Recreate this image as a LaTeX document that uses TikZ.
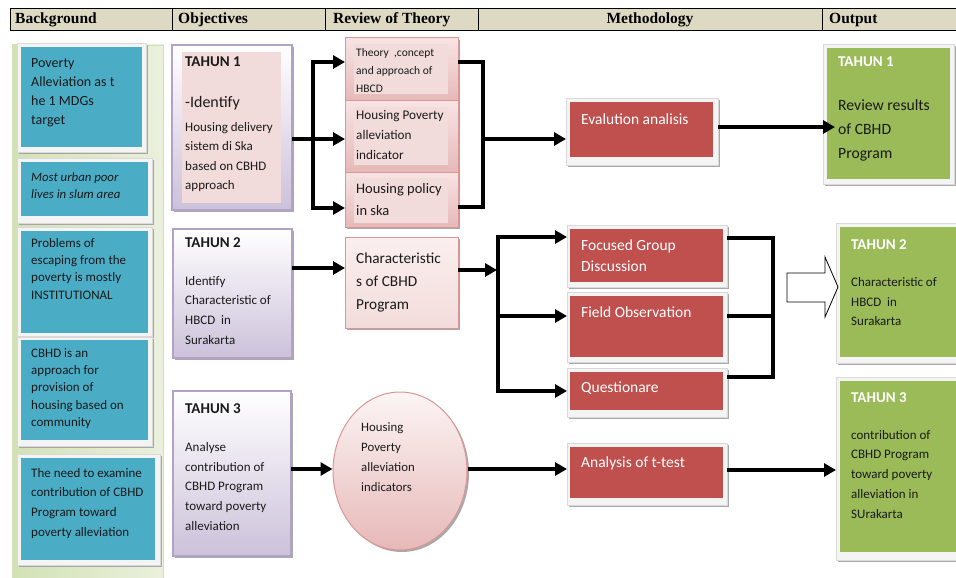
\documentclass[tikz,border=0pt]{standalone}
\usepackage{fontspec}
\setmainfont{Carlito}
\newfontfamily\hdrfont{Liberation Serif}
\usetikzlibrary{arrows.meta,shadows,shapes.geometric}
\definecolor{hdrbg}{HTML}{DDD9C3}
\definecolor{bluefill}{HTML}{4BACC6}
\definecolor{panelA}{HTML}{D3E1B6}
\definecolor{panelB}{HTML}{EAF0DC}
\definecolor{framefill}{HTML}{F4F4F4}
\definecolor{framedraw}{HTML}{D9D9D9}
\definecolor{purpbot}{HTML}{CCC1DA}
\definecolor{purpdraw}{HTML}{B3A2C7}
\definecolor{pinkinc}{HTML}{F2DCDB}
\definecolor{pinktop}{HTML}{F8E4E4}
\definecolor{pinkbot}{HTML}{E6B9B8}
\definecolor{pinkdraw}{HTML}{D99694}
\definecolor{redfill}{HTML}{C0504D}
\definecolor{greenfill}{HTML}{9BBB59}
\definecolor{shadowc}{HTML}{A0A0A0}
\definecolor{txtc}{HTML}{1A1A1A}
\newcommand\myfs[2]{\fontsize{#1pt}{#2pt}\selectfont}
\newcommand\bx[6]{\node[#1, minimum width=#5pt, minimum height=#6pt] (#2) at (#3,#4) {};}
\begin{document}
\begin{tikzpicture}[x=1pt,y=-1pt,
  bxs/.style={anchor=north west, inner sep=0pt, outer sep=0pt},
  shd/.style={drop shadow={shadow xshift=2pt,shadow yshift=-2pt,fill=shadowc,opacity=0.9}},
  frame/.style={bxs, shd, fill=framefill, draw=framedraw, line width=0.6pt},
  bluein/.style={bxs, fill=bluefill},
  redin/.style={bxs, fill=redfill},
  greenin/.style={bxs, fill=greenfill},
  purp/.style={bxs, shd, top color=white, bottom color=purpbot, draw=purpdraw, line width=1.2pt},
  pinkout/.style={bxs, shd, top color=pinktop, bottom color=pinkbot, draw=pinkdraw, line width=1pt},
  pinkin/.style={bxs, fill=pinkinc},
  txt/.style={anchor=north west, inner sep=0pt, align=left, text=txtc},
  wtxt/.style={anchor=north west, inner sep=0pt, align=left, text=white},
  hdr/.style={anchor=west, inner sep=0pt, font=\hdrfont\bfseries\myfs{15.5}{18}},
  link/.style={line width=4pt},
  arr/.style={link, -{Triangle[length=12pt,width=13pt]}}
]
\useasboundingbox (0,0) rectangle (956,578);
% header
\node[bxs, fill=hdrbg, minimum width=950pt, minimum height=22pt] (hdrbar) at (10,9) {};
\draw[line width=1pt] (hdrbar.north west) -- (hdrbar.north east);
\draw[line width=1pt] (hdrbar.south west) -- (hdrbar.south east);
\draw[line width=0.8pt] (10,9) -- (10,31);
\foreach \xx in {172,325,478,822} \draw[line width=0.8pt] (\xx,9) -- (\xx,31);
\node[hdr] (h1) at (15,20) {Background};
\node[hdr] (h2) at (178,20) {Objectives};
\node[hdr] (h3) at (333,20) {Review of Theory};
\node[hdr, anchor=center] (h4) at (650,20) {Methodology};
\node[hdr] (h5) at (829,20) {Output};
% background panel
\node[bxs, left color=panelA, right color=panelB, draw=panelA, minimum width=151pt, minimum height=540pt] (panel) at (12,45) {};
% blue boxes
\bx{frame}{bg1o}{17}{43}{129}{109}
\bx{bluein}{bg1}{21}{47}{121}{100}
\bx{frame}{bg2o}{17}{158}{135}{65}
\bx{bluein}{bg2}{21}{162}{127}{54}
\bx{frame}{bg3o}{17}{227}{135}{109}
\bx{bluein}{bg3}{21}{231}{127}{102}
\bx{frame}{bg4o}{17}{337}{135}{109}
\bx{bluein}{bg4}{21}{340}{127}{100}
\bx{frame}{bg5o}{17}{454}{143}{111}
\bx{bluein}{bg5}{21}{458}{134}{102}
\node[txt, font=\myfs{14}{19}] (bg1t) at (31,58.5) {Poverty\\Alleviation as t\\he 1 MDGs\\target};
\node[txt, font=\itshape\myfs{12.8}{17.5}] (bg2t) at (31,172) {Most urban poor\\lives in slum area};
\node[txt, font=\myfs{13}{17.3}] (bg3t) at (31,238) {Problems of\\escaping from the\\poverty is mostly\\INSTITUTIONAL};
\node[txt, font=\myfs{13}{17.3}] (bg4t) at (31,348) {CBHD is an\\approach for\\provision of\\housing based on\\community};
\node[txt, font=\myfs{13}{19.7}] (bg5t) at (31,468) {The need to examine\\contribution of CBHD\\Program toward\\poverty alleviation};
% objectives
\bx{purp}{obj1o}{172}{45}{120}{165}
\bx{pinkin}{obj1in}{182}{52}{99}{151}
\bx{purp}{obj2o}{173}{229}{119}{129}
\bx{purp}{obj3o}{173}{391}{118}{165}
\node[txt, font=\bfseries\myfs{15}{18}] (o1h) at (185,57) {TAHUN 1};
\node[txt, font=\myfs{16}{19}] (o1a) at (185,96.5) {-Identify};
\node[txt, font=\myfs{13}{19.5}] (o1b) at (185,122) {Housing delivery\\sistem di Ska\\based on CBHD\\approach};
\node[txt, font=\bfseries\myfs{15}{18}] (o2h) at (185,237) {TAHUN 2};
\node[txt, font=\myfs{13}{19.7}] (o2b) at (185,276) {Identify\\Characteristic of\\HBCD\ \ in\\Surakarta};
\node[txt, font=\bfseries\myfs{15}{18}] (o3h) at (185,403) {TAHUN 3};
\node[txt, font=\myfs{13}{19.8}] (o3b) at (185,442) {Analyse\\contribution of\\CBHD Program\\toward poverty\\alleviation};
% review of theory
\bx{pinkout}{rAo}{345}{38}{113}{62}
\bx{pinkin}{rA}{354}{44}{94}{50}
\bx{pinkout}{rBo}{345}{100}{113}{72}
\bx{pinkin}{rB}{354}{107}{94}{58}
\bx{pinkout}{rCo}{345}{172}{113}{55}
\bx{pinkin}{rC}{354}{178}{94}{45}
\node[bxs, shd, top color=pinktop!60, bottom color=pinkinc, draw=pinkdraw, line width=1pt, minimum width=113pt, minimum height=91pt] (charo) at (345,237) {};
\node[txt, font=\myfs{11.5}{18}] (rAt) at (356,48.5) {Theory\ \ ,concept\\and approach of\\HBCD};
\node[txt, font=\myfs{13.2}{20}] (rBt) at (356,110.5) {Housing Poverty\\alleviation\\indicator};
\node[txt, font=\myfs{14.5}{22}] (rCt) at (356,183) {Housing policy\\in ska};
\node[txt, font=\myfs{15.3}{23}] (charT) at (356,253) {Characteristic\\s of CBHD\\Program};
\node[ellipse, shd, top color=pinktop!40, bottom color=pinkbot, draw=pinkdraw, line width=1pt, minimum width=134pt, minimum height=158pt, inner sep=0pt] (ell) at (400,471) {};
\node[txt, font=\myfs{12.8}{20}] (ellT) at (361,422) {Housing\\Poverty\\alleviation\\indicators};
% methodology
\bx{frame}{evalo}{566}{98}{152}{67}
\bx{redin}{eval}{570}{102}{143}{55}
\bx{frame}{fgdo}{567}{225}{160}{62}
\bx{redin}{fgd}{570}{229}{153}{53}
\bx{frame}{foo}{567}{292}{160}{70}
\bx{redin}{fo}{570}{296}{153}{61}
\bx{frame}{qo}{567}{368}{160}{49}
\bx{redin}{q}{570}{372}{153}{38}
\bx{frame}{ttesto}{567}{443}{160}{62}
\bx{redin}{ttest}{570}{447}{153}{51}
\node[wtxt, font=\myfs{15.5}{21}] (evalT) at (581,114) {Evalution analisis};
\node[wtxt, font=\myfs{15.5}{21}] (fgdT) at (581,239.5) {Focused Group\\Discussion};
\node[wtxt, font=\myfs{15.5}{21}] (foT) at (581,307) {Field Observation};
\node[wtxt, font=\myfs{15.5}{21}] (qT) at (581,382) {Questionare};
\node[wtxt, font=\myfs{15.5}{21}] (ttT) at (581,457) {Analysis of t-test};
% output
\bx{frame}{out1o}{823}{44}{131}{140}
\bx{greenin}{out1}{827}{48}{123}{131}
\bx{frame}{out2o}{836}{223}{122}{140}
\bx{greenin}{out2}{840}{227}{118}{130}
\bx{frame}{out3o}{836}{377}{122}{183}
\bx{greenin}{out3}{840}{381}{118}{171}
\node[wtxt, font=\bfseries\myfs{15}{18}] (out1h) at (838,57) {TAHUN 1};
\node[txt, font=\myfs{15.7}{24}] (out1b) at (838,99) {Review results\\of CBHD\\Program};
\node[wtxt, font=\bfseries\myfs{15}{18}] (out2h) at (851,239) {TAHUN 2};
\node[txt, font=\myfs{13}{19.5}] (out2b) at (851,277.5) {Characteristic of\\HBCD\ \ in\\Surakarta};
\node[wtxt, font=\bfseries\myfs{15}{18}] (out3h) at (851,392) {TAHUN 3};
\node[txt, font=\myfs{13}{19.7}] (out3b) at (851,430) {contribution of\\CBHD Program\\toward poverty\\alleviation in\\SUrakarta};
% block arrow
\draw[line width=0.8pt, fill=white] (787,273) -- (825,273) -- (825,257) -- (838,287) -- (825,317) -- (825,302) -- (787,302) -- cycle;
% connectors
\coordinate (a1) at (313,62);
\coordinate (a3) at (313,208);
\coordinate (j1) at (313,139);
\draw[arr] (a3) -- (a1) -- (rAo.west |- a1);
\draw[arr] (a1) -- (a3) -- (rCo.west |- a3);
\draw[arr] (obj1o.east |- j1) -- (rBo.west |- j1);
\coordinate (b1) at (483,62);
\coordinate (b2) at (483,139);
\coordinate (b3) at (483,207);
\draw[link] (rAo.east |- b1) -- (b1) -- (b3) -- (rCo.east |- b3);
\draw[arr] (b2) -- (evalo.west |- b2);
\coordinate (e1) at (718,127);
\coordinate (e2) at (835,127);
\draw[arr] (evalo.east |- e1) -- (e2);
\coordinate (c1) at (300,268);
\draw[arr] (obj2o.east |- c1) -- (charo.west |- c1);
\coordinate (d0) at (497,270);
\draw[arr] (charo.east |- d0) -- (d0);
\coordinate (d1) at (498,237);
\coordinate (d2) at (498,316);
\coordinate (d3) at (498,391);
\draw[arr] (d3) -- (d1) -- (fgdo.west |- d1);
\draw[arr] (d1) -- (d3) -- (qo.west |- d3);
\draw[arr] (d2) -- (foo.west |- d2);
\coordinate (f1) at (773,238);
\coordinate (f2) at (773,316);
\coordinate (f3) at (773,377);
\draw[link] (fgdo.east |- f1) -- (f1) -- (f3) -- (qo.east |- f3);
\draw[link] (foo.east |- f2) -- (f2);
\coordinate (g1) at (300,469);
\coordinate (g2) at (740,470);
\draw[arr] (obj3o.east |- g1) -- (ell.west |- g1);
\draw[arr] (ell.east |- g1) -- (ttesto.west |- g1);
\draw[arr] (ttesto.east |- g2) -- (out3o.west |- g2);
\end{tikzpicture}
\end{document}
